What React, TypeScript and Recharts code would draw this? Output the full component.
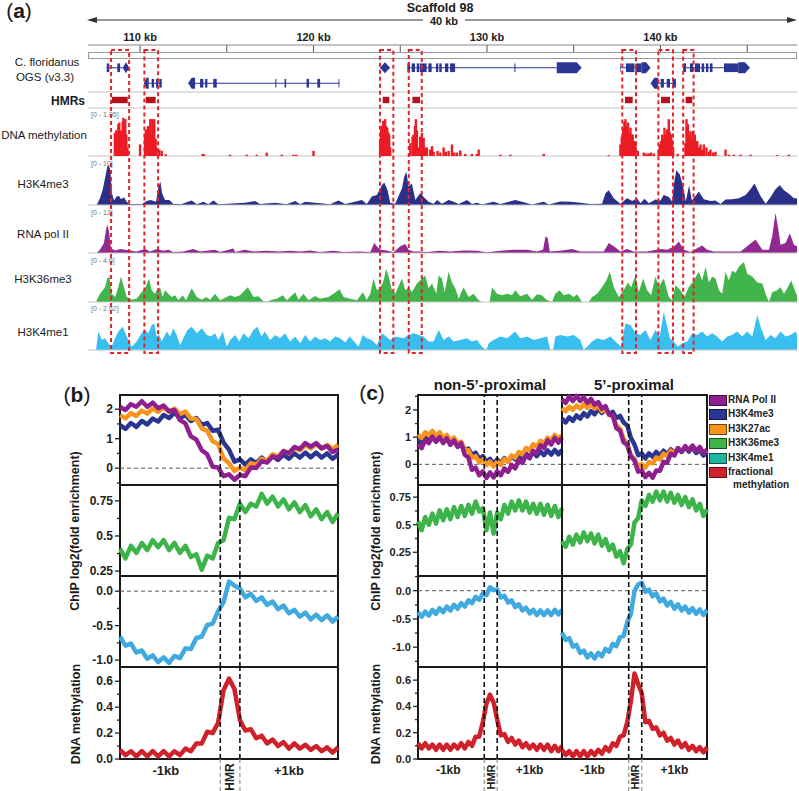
import React from 'react';
import {
  AreaChart,
  Area,
  ScatterChart,
  Scatter,
  LineChart,
  Line,
  XAxis,
  YAxis,
  ReferenceLine,
  ReferenceArea
} from 'recharts';

const FONT = '"Liberation Sans", Arial, Helvetica, sans-serif';
const NO_MARGIN = { top: 0, right: 0, bottom: 0, left: 0 };

// ---------------- panel (a) data: genome browser, Scaffold 98 (kb) ----------------
const KB_MIN = 107.0;
const KB_MAX = 147.87;
const rulerKb = [110, 115, 120, 125, 130, 135, 140, 145];
const rulerLabels = [110, 120, 130, 140];

// gene models: row, intron span, exons, terminal exon with direction
const genes = [
  { row: 1, start: 108.08, end: 109.0, exons: [[108.08, 108.23], [108.69, 108.85]], head: [109.0, 109.38], dir: 'none' },
  { row: 2, start: 110.23, end: 111.25, exons: [[110.67, 110.81], [110.92, 111.05], [111.11, 111.25]], head: [110.23, 110.5], dir: 'left' },
  { row: 2, start: 112.78, end: 121.49, exons: [[113.46, 113.65], [113.75, 113.88], [114.22, 114.42], [117.8, 117.86], [118.33, 118.42], [119.6, 119.74], [120.22, 120.38], [121.44, 121.49]], head: [112.78, 113.17], dir: 'left' },
  { row: 1, start: 123.83, end: 124.41, exons: [], head: [123.83, 124.41], dir: 'none' },
  { row: 1, start: 125.41, end: 134.02, exons: [[125.41, 125.56], [125.66, 125.85], [125.95, 126.1], [126.14, 126.52], [126.62, 126.81], [127.06, 127.19], [127.25, 127.39], [127.58, 127.77], [127.87, 128.16], [131.58, 131.64]], head: [134.02, 135.46], dir: 'right' },
  { row: 1, start: 137.67, end: 138.9, exons: [[137.67, 137.7], [138.01, 138.5], [138.56, 138.9]], head: [138.9, 139.43], dir: 'right' },
  { row: 2, start: 139.87, end: 140.89, exons: [[140.01, 140.2], [140.36, 140.55], [140.7, 140.89]], head: [139.43, 139.87], dir: 'left' },
  { row: 1, start: 141.31, end: 143.66, exons: [[141.31, 141.47], [141.7, 141.89], [141.99, 142.28], [142.37, 142.52], [142.62, 142.76], [142.85, 143.0], [143.66, 144.48]], head: [144.48, 145.16], dir: 'right' }
];

const hmrs = [[108.37, 109.29], [110.33, 110.9], [123.99, 124.37], [125.7, 126.14], [137.95, 138.4], [140.03, 140.55], [141.45, 141.83]];
const hmrBoxes = [[108.33, 109.37], [110.25, 111.04], [123.83, 124.6], [125.49, 126.24], [137.8, 138.59], [139.88, 140.72], [141.31, 141.91]];

const methPoints = [
  [108.55, 0.54], [108.63, 0.6], [108.69, 0.58], [108.75, 0.74], [108.8, 0.78], [108.88, 0.6], [108.94, 0.54], [109.0, 0.8], [109.04, 0.89], [109.09, 0.7], [109.15, 0.86], [109.21, 0.5], [109.27, 0.2],
  [110.0, 0.27], [110.29, 0.45], [110.34, 0.62], [110.4, 0.55], [110.46, 0.7], [110.53, 0.6], [110.59, 0.86], [110.65, 0.5], [110.71, 0.86], [110.77, 0.6], [110.82, 0.86], [110.9, 0.4], [110.96, 0.19], [111.11, 0.15], [111.25, 0.12], [111.48, 0.04],
  [113.61, 0.05], [113.69, 0.04], [115.19, 0.03], [116.15, 0.03], [116.73, 0.03], [117.3, 0.08], [118.17, 0.03], [118.84, 0.03], [119.0, 0.03], [120.0, 0.12],
  [123.84, 0.4], [123.9, 0.62], [123.96, 0.7], [124.02, 0.82], [124.08, 0.75], [124.13, 0.86], [124.19, 0.7], [124.25, 0.66], [124.31, 0.55], [124.36, 0.5], [124.42, 0.2],
  [125.58, 0.3], [125.71, 0.45], [125.77, 0.5], [125.85, 0.7], [125.9, 0.86], [125.96, 0.6], [126.06, 0.2], [126.15, 0.45], [126.25, 0.54], [126.35, 0.42], [126.44, 0.2], [126.54, 0.2], [126.73, 0.15], [126.83, 0.23], [126.92, 0.1], [127.15, 0.12], [127.31, 0.08], [127.5, 0.2], [127.63, 0.1], [127.79, 0.12], [127.98, 0.27], [128.12, 0.08], [128.27, 0.08], [128.46, 0.13], [128.75, 0.05], [129.13, 0.05], [129.42, 0.05], [129.52, 0.15], [130.77, 0.03], [131.35, 0.03], [133.27, 0.05],
  [137.02, 0.02], [137.69, 0.27], [137.77, 0.45], [137.85, 0.62], [137.92, 0.8], [137.98, 0.86], [138.06, 0.7], [138.12, 0.78], [138.19, 0.55], [138.27, 0.66], [138.35, 0.5], [138.4, 0.5], [138.48, 0.35], [138.56, 0.27], [138.69, 0.12],
  [139.04, 0.08], [139.19, 0.06], [139.33, 0.06], [139.46, 0.08], [139.62, 0.06],
  [139.9, 0.1], [139.96, 0.27], [140.04, 0.35], [140.1, 0.5], [140.17, 0.4], [140.23, 0.66], [140.31, 0.5], [140.38, 0.62], [140.48, 0.86], [140.54, 0.55], [140.62, 0.5], [140.67, 0.3], [140.73, 0.2], [141.0, 0.05],
  [141.44, 0.3], [141.5, 0.86], [141.58, 0.74], [141.65, 0.5], [141.73, 0.58], [141.81, 0.4], [141.87, 0.58], [141.92, 0.35], [141.98, 0.5], [142.06, 0.3], [142.12, 0.35], [142.21, 0.2], [142.31, 0.27], [142.4, 0.15], [142.5, 0.27], [142.65, 0.2], [142.79, 0.1], [142.88, 0.15], [143.04, 0.08], [143.17, 0.1],
  [143.75, 0.15], [143.94, 0.03], [144.23, 0.03], [144.62, 0.03], [145.19, 0.03], [146.73, 0.02], [147.4, 0.03]
];

const h3k4me3Points = [
  [107.5, 0], [107.69, 1.5], [107.84, 3.3], [108.0, 6.3], [108.11, 8.5], [108.19, 8.9], [108.29, 7.8], [108.38, 2.6], [108.5, 1.0], [108.65, 1.9], [108.79, 2.0], [108.9, 1.3], [109.07, 1.7], [109.23, 0.7], [109.42, 0.2],
  [110.09, 0.15], [110.38, 0.9], [110.61, 1.1], [110.92, 0.7], [111.07, 4.1], [111.17, 5.2], [111.27, 2.6], [111.44, 1.1], [111.69, 1.1], [111.92, 0.2], [112.4, 0.2], [112.98, 1.0], [113.27, 0.15], [113.65, 0.7], [113.94, 0.15], [114.23, 1.0], [114.52, 0.15],
  [116.05, 0.5], [116.63, 0.9], [116.92, 0.2], [117.79, 0.5], [118.46, 0.15], [118.94, 0.9], [119.23, 0.15], [119.52, 0.7], [120.09, 0.5], [120.96, 0.15], [121.44, 1.0], [121.83, 0.2], [122.79, 1.1], [123.07, 0.2],
  [123.36, 1.9], [123.65, 2.2], [123.94, 4.4], [124.08, 5.0], [124.27, 3.3], [124.42, 0.5], [124.71, 0.3], [125.1, 3.7], [125.23, 6.3], [125.35, 7.4], [125.48, 4.1], [125.67, 4.8], [125.87, 1.1], [126.15, 2.6], [126.35, 1.8], [126.63, 0.7], [126.92, 0.3],
  [127.12, 1.1], [127.4, 0.3], [127.79, 1.1], [128.08, 0.7], [128.37, 0.2], [128.85, 1.1], [129.13, 0.2], [129.42, 0.5], [129.71, 0.1], [130.38, 0.7], [130.77, 0.2], [131.63, 1.1], [132.12, 0.6], [132.6, 0.1], [133.27, 0.7], [133.56, 0.1], [134.23, 0.8], [134.81, 0.7], [135.38, 0.5], [135.96, 0.2],
  [136.63, 0.3], [136.83, 2.6], [137.02, 3.3], [137.31, 1.5], [137.69, 0.3], [138.08, 1.5], [138.37, 0.9], [138.65, 1.5], [138.85, 0.4], [139.08, 1.4], [139.33, 0.4], [139.71, 1.2], [140.0, 1.0], [140.19, 2.2], [140.48, 1.8], [140.67, 0.8],
  [140.81, 5.5], [140.92, 7.8], [141.12, 6.7], [141.31, 4.0], [141.46, 0.8], [141.65, 4.4], [141.81, 1.0], [142.02, 2.0], [142.21, 3.0], [142.5, 1.3], [142.88, 0.9], [143.17, 1.0], [143.46, 0.2], [143.75, 1.2], [144.13, 1.3], [144.52, 1.5],
  [144.9, 2.2], [145.19, 3.5], [145.42, 4.8], [145.77, 2.0], [146.06, 0.3], [146.35, 1.8], [146.63, 3.5], [146.88, 4.4], [147.12, 3.3], [147.4, 2.5], [147.69, 1.5], [147.88, 1.5]
];

const polIIPoints = [
  [107.5, 0], [107.69, 0.9], [107.92, 2.7], [108.04, 6.2], [108.11, 7.6], [108.21, 5.8], [108.32, 1.3], [108.56, 0.7], [108.85, 1.1], [109.13, 0.9], [109.42, 0.7], [109.8, 0.4], [110.29, 1.1], [110.58, 0.4], [110.96, 1.1], [111.34, 0.6], [111.63, 0.9], [111.92, 0.3],
  [112.5, 0.4], [113.07, 1.1], [113.46, 0.4], [114.32, 0.9], [114.61, 0.3], [115.38, 1.2], [115.48, 0.3], [116.05, 0.9], [116.54, 0.4], [117.3, 0.6], [118.07, 0.4], [118.65, 0.6], [119.23, 0.4], [119.8, 0.7], [120.38, 0.3], [121.15, 0.6], [121.73, 0.3], [122.69, 0.4], [123.27, 0.3],
  [123.5, 2.7], [123.65, 1.8], [123.85, 0.9], [124.23, 0.7], [124.61, 0.2], [125.0, 1.8], [125.29, 2.4], [125.48, 0.9], [125.77, 0.4], [126.15, 0.4], [126.54, 0.3], [127.31, 0.6], [127.88, 0.4], [128.65, 0.7], [129.42, 0.6], [130.0, 0.2], [130.77, 0.6], [131.54, 0.9], [132.31, 0.9], [132.88, 0.4],
  [133.23, 0.9], [133.37, 4.4], [133.5, 4.0], [133.62, 0.4], [134.23, 0.6], [134.9, 1.1], [135.38, 0.4], [136.15, 0.4], [136.73, 0.4], [137.02, 2.7], [137.31, 1.8], [137.69, 0.4], [138.08, 1.1], [138.46, 0.4], [139.23, 0.4], [140.0, 1.1], [140.38, 0.9], [140.81, 1.8], [141.06, 3.1], [141.35, 0.9], [141.73, 0.3],
  [142.4, 2.0], [142.69, 0.9], [143.08, 0.4], [143.85, 0.4], [144.62, 0.4], [145.1, 2.2], [145.48, 3.6], [145.87, 0.9], [146.25, 0.9], [146.44, 4.4], [146.63, 10.7], [146.77, 7.1], [146.92, 2.2], [147.21, 2.7], [147.46, 5.3], [147.69, 2.2], [147.88, 1.8]
];

const h3k36me3Points = [
  [107.5, 0.17], [107.69, 0.85], [107.98, 1.5], [108.11, 2.4], [108.23, 2.6], [108.36, 0.85], [108.56, 0.51], [108.75, 1.5], [108.9, 2.6], [109.07, 1.5], [109.23, 0.51], [109.52, 0.24], [109.8, 0.34], [110.09, 1.0], [110.29, 1.4], [110.52, 2.4], [110.67, 1.2], [110.86, 0.85],
  [111.0, 1.3], [111.15, 1.5], [111.3, 0.51], [111.44, 1.2], [111.63, 0.85], [111.82, 0.51], [112.02, 0.68], [112.21, 0.17], [112.46, 0.68], [112.65, 0.17], [112.98, 1.4], [113.27, 0.51], [113.56, 0.24], [113.81, 0.51], [114.04, 0.24], [114.32, 0.85], [114.61, 0.17],
  [115.0, 0.51], [115.19, 0.68], [115.48, 0.51], [115.77, 0.68], [116.21, 1.5], [116.54, 0.51], [116.82, 0.58], [117.11, 0.07], [117.3, 0], [117.59, 0.24], [117.88, 0.34], [118.23, 0.68], [118.46, 0.17], [118.94, 1.0], [119.13, 0.24], [119.42, 0.85], [119.71, 0.17],
  [120.09, 0.61], [120.38, 0.34], [120.86, 0.51], [121.15, 0.85], [121.5, 1.3], [121.73, 0.51], [122.11, 0.34], [122.5, 0.17], [122.85, 1.0], [123.07, 0.24], [123.27, 0.85], [123.46, 2.4], [123.65, 1.2], [123.85, 1.4], [124.04, 2.2], [124.19, 3.4], [124.33, 2.6], [124.52, 1.2], [124.71, 0.85],
  [125.1, 2.4], [125.29, 1.2], [125.48, 1.5], [125.67, 1.0], [125.96, 1.9], [126.25, 2.4], [126.44, 2.7], [126.63, 1.4], [126.83, 1.9], [127.08, 0.85], [127.21, 2.7], [127.4, 2.4], [127.56, 1.0], [127.79, 3.1], [127.98, 2.0], [128.17, 1.4], [128.37, 0.34], [128.65, 1.5], [128.94, 0.51],
  [129.23, 0.85], [129.52, 0.17], [129.71, 0], [130.15, 0], [130.29, 1.5], [130.58, 0.85], [130.87, 0.68], [131.15, 0.85], [131.44, 0.68], [131.63, 1.2], [131.92, 0.58], [132.31, 0.85], [132.6, 0.24], [132.88, 0.78], [133.17, 0.68], [133.42, 0.24], [133.75, 0],
  [133.94, 0.85], [134.19, 1.2], [134.42, 0.68], [134.71, 0.85], [135.0, 0.51], [135.19, 0.78], [135.48, 0], [135.87, 0], [136.06, 0.51], [136.35, 0.85], [136.63, 1.5], [136.88, 2.2], [137.08, 3.1], [137.31, 1.5], [137.6, 0.51], [137.88, 1.2], [138.12, 2.0], [138.31, 1.5],
  [138.56, 2.7], [138.75, 1.0], [139.0, 2.4], [139.23, 1.2], [139.46, 0.68], [139.71, 2.6], [139.9, 1.5], [140.19, 2.4], [140.48, 0.51], [140.67, 0.17], [140.87, 1.7], [141.15, 1.2], [141.38, 0.51], [141.63, 1.5], [141.92, 2.2], [142.21, 3.1], [142.4, 2.2], [142.6, 3.6],
  [142.79, 2.0], [142.98, 2.6], [143.17, 2.4], [143.37, 1.2], [143.56, 0.85], [143.75, 3.1], [143.94, 2.2], [144.13, 3.2], [144.33, 3.0], [144.52, 3.6], [144.81, 4.1], [145.0, 2.9], [145.29, 2.6], [145.58, 2.0], [145.87, 1.9], [146.06, 0.85], [146.25, 0],
  [146.44, 1.0], [146.73, 1.2], [146.92, 1.5], [147.12, 0.85], [147.31, 1.4], [147.54, 2.2], [147.79, 1.0], [147.92, 0.51]
];

const h3k4me1Points = [
  [107.46, 0], [107.6, 1.07], [107.79, 0.58], [107.98, 0.68], [108.17, 0.39], [108.36, 0.19], [108.56, 0.68], [108.75, 1.07], [109.0, 1.36], [109.23, 0.78], [109.52, 0.19], [109.8, 0.49], [110.09, 0.97], [110.29, 1.17], [110.48, 0.97], [110.67, 1.46], [110.81, 1.55], [110.96, 0.78],
  [111.11, 0.87], [111.25, 0.49], [111.54, 1.07], [111.73, 0.78], [111.92, 1.26], [112.11, 0.87], [112.31, 0.29], [112.54, 0.78], [112.73, 1.17], [112.98, 1.36], [113.27, 0.97], [113.56, 1.26], [113.85, 0.87], [114.08, 0.78], [114.32, 0.97], [114.52, 0.58], [114.77, 1.07],
  [115.0, 0.19], [115.19, 0.58], [115.48, 0.87], [115.73, 0.49], [115.96, 0.97], [116.25, 0.68], [116.54, 1.17], [116.77, 1.36], [117.0, 0.78], [117.19, 1.07], [117.5, 0.58], [117.79, 0.87], [118.07, 0.68], [118.36, 0.97], [118.65, 0.49], [118.94, 0.78], [119.23, 0.39],
  [119.52, 0.87], [119.8, 0.49], [120.09, 0.78], [120.38, 0.58], [120.67, 0.68], [120.96, 0.49], [121.25, 0.78], [121.54, 0.68], [121.83, 0.43], [122.08, 0.78], [122.34, 0.49], [122.59, 0.19], [122.84, 0.87], [123.07, 0.68], [123.36, 0.58], [123.65, 0.29], [123.94, 0.97],
  [124.19, 0.78], [124.42, 0.58], [124.71, 0.78], [125.19, 0.68], [125.48, 0.87], [125.77, 0.97], [126.06, 0.87], [126.35, 0.78], [126.63, 0.49], [126.92, 0.49], [127.21, 1.17], [127.5, 0.58], [127.79, 0.78], [128.08, 0.49], [128.46, 0.58], [128.85, 0.68], [129.13, 0.49],
  [129.42, 0.58], [129.71, 0.19], [129.96, 0], [130.1, 0.39], [130.38, 0.58], [130.77, 0.78], [131.15, 0.68], [131.63, 1.07], [131.92, 0.68], [132.31, 0.78], [132.69, 0.58], [133.08, 0.68], [133.46, 0.78], [133.65, 0], [133.81, 0], [133.94, 0.78], [134.23, 0.87],
  [134.62, 0.78], [135.0, 0.87], [135.38, 0.58], [135.58, 0], [135.77, 0.19], [136.06, 0.49], [136.35, 0.68], [136.73, 0.58], [137.12, 0.78], [137.4, 0.49], [137.73, 0.19], [137.98, 1.55], [138.27, 1.46], [138.56, 0.97], [138.85, 0.87], [139.13, 1.17], [139.42, 0.58],
  [139.71, 1.17], [139.96, 0.78], [140.19, 2.23], [140.35, 1.55], [140.54, 0.68], [140.77, 0.49], [141.0, 0.19], [141.25, 0.39], [141.54, 0.49], [141.83, 0.97], [142.12, 0.87], [142.4, 1.07], [142.69, 0.78], [142.98, 0.97], [143.27, 0.78], [143.56, 0.49], [143.85, 0.78],
  [144.13, 0.87], [144.42, 1.07], [144.71, 0.78], [145.0, 1.07], [145.29, 0.78], [145.58, 2.04], [145.77, 1.36], [146.06, 0.58], [146.35, 0.87], [146.63, 0.68], [146.92, 1.07], [147.21, 0.78], [147.5, 0.87], [147.79, 1.07], [147.92, 0.78]
];

// ---------------- panels (b) and (c): profiles around HMRs ----------------
// x runs 0..100 across the window, HMR between 46 and 55
const profileX = [0, 2.5, 5, 7.5, 10, 12.5, 15, 17.5, 20, 22.5, 25, 27.5, 30, 32.5, 35, 37.5, 40, 42.5, 45, 47.5, 50, 52.5, 55, 57.5, 60, 62.5, 65, 67.5, 70, 72.5, 75, 77.5, 80, 82.5, 85, 87.5, 90, 92.5, 95, 97.5, 100];
const hmrEdges = [46, 55];
const xLabelTicks = [21, 50.5, 77.5];

// (b) all HMRs
const polB = [2.07, 1.97, 2.17, 2.08, 2.27, 2.08, 2.22, 2.03, 2.12, 1.93, 1.97, 1.63, 1.52, 1.08, 0.97, 0.61, 0.47, 0.05, 0.02, -0.27, -0.21, -0.39, -0.23, -0.27, 0.02, 0.01, 0.24, 0.19, 0.4, 0.35, 0.57, 0.51, 0.72, 0.65, 0.85, 0.73, 0.85, 0.67, 0.75, 0.55, 0.63];
const k4me3B = [1.46, 1.33, 1.53, 1.4, 1.6, 1.48, 1.68, 1.58, 1.8, 1.7, 1.88, 1.7, 1.8, 1.6, 1.7, 1.47, 1.53, 1.27, 1.3, 0.87, 0.63, 0.22, 0.3, 0.12, 0.3, 0.17, 0.36, 0.22, 0.41, 0.28, 0.46, 0.32, 0.5, 0.36, 0.53, 0.37, 0.53, 0.36, 0.5, 0.32, 0.46];
const k27acB = [1.79, 1.69, 1.87, 1.77, 1.95, 1.85, 2.02, 1.91, 2.07, 1.91, 2.02, 1.83, 1.92, 1.68, 1.67, 1.35, 1.27, 0.91, 0.82, 0.33, 0.17, -0.09, 0.02, -0.07, 0.17, 0.11, 0.32, 0.25, 0.47, 0.39, 0.59, 0.5, 0.69, 0.6, 0.79, 0.67, 0.82, 0.67, 0.79, 0.65, 0.79];
const k36B = [0.41, 0.34, 0.43, 0.38, 0.45, 0.4, 0.47, 0.42, 0.47, 0.4, 0.45, 0.38, 0.43, 0.35, 0.37, 0.26, 0.36, 0.34, 0.45, 0.47, 0.63, 0.62, 0.73, 0.67, 0.73, 0.71, 0.8, 0.73, 0.78, 0.71, 0.76, 0.69, 0.74, 0.67, 0.72, 0.64, 0.69, 0.62, 0.67, 0.6, 0.66];
const k4me1B = [-0.66, -0.79, -0.76, -0.89, -0.86, -0.98, -0.93, -1.03, -0.96, -1.04, -0.94, -0.97, -0.83, -0.84, -0.68, -0.66, -0.49, -0.47, -0.29, -0.16, 0.14, 0.08, 0.04, -0.09, -0.04, -0.14, -0.09, -0.2, -0.15, -0.26, -0.21, -0.32, -0.27, -0.37, -0.31, -0.41, -0.34, -0.42, -0.35, -0.44, -0.37];
const methB = [0.07, 0.03, 0.06, 0.02, 0.06, 0.02, 0.06, 0.02, 0.06, 0.02, 0.06, 0.03, 0.08, 0.06, 0.12, 0.12, 0.21, 0.2, 0.28, 0.53, 0.62, 0.54, 0.3, 0.22, 0.23, 0.16, 0.18, 0.12, 0.15, 0.1, 0.13, 0.08, 0.12, 0.08, 0.11, 0.07, 0.1, 0.06, 0.09, 0.05, 0.09];

// (c) non-5'-proximal
const polN = [0.75, 0.6, 0.9, 0.78, 1.02, 0.83, 1.0, 0.78, 0.95, 0.72, 0.88, 0.64, 0.78, 0.35, 0.25, -0.2, -0.12, -0.4, -0.26, -0.5, -0.3, -0.48, -0.25, -0.4, -0.15, -0.28, -0.02, -0.15, 0.15, 0.05, 0.33, 0.22, 0.5, 0.4, 0.7, 0.6, 0.88, 0.73, 0.97, 0.8, 0.98];
const k4me3N = [0.93, 0.82, 1.03, 0.92, 1.1, 0.92, 1.05, 0.85, 0.98, 0.78, 0.9, 0.7, 0.78, 0.52, 0.58, 0.34, 0.43, 0.2, 0.3, 0.08, 0.2, 0.02, 0.18, 0.04, 0.23, 0.1, 0.3, 0.18, 0.36, 0.22, 0.4, 0.26, 0.44, 0.3, 0.48, 0.34, 0.51, 0.36, 0.53, 0.37, 0.53];
const k27acN = [1.08, 0.97, 1.18, 1.07, 1.23, 1.04, 1.18, 0.97, 1.08, 0.87, 0.98, 0.77, 0.83, 0.52, 0.53, 0.24, 0.3, 0.07, 0.18, -0.03, 0.1, -0.08, 0.1, -0.02, 0.2, 0.1, 0.33, 0.24, 0.46, 0.37, 0.6, 0.52, 0.74, 0.64, 0.86, 0.77, 0.98, 0.87, 1.08, 0.94, 1.08];
const k36N = [0.53, 0.45, 0.57, 0.5, 0.6, 0.51, 0.63, 0.54, 0.64, 0.55, 0.66, 0.57, 0.67, 0.58, 0.68, 0.6, 0.71, 0.62, 0.65, 0.45, 0.61, 0.42, 0.61, 0.55, 0.68, 0.6, 0.71, 0.63, 0.72, 0.63, 0.71, 0.61, 0.69, 0.6, 0.69, 0.59, 0.68, 0.58, 0.67, 0.57, 0.65];
const k4me1N = [-0.38, -0.46, -0.37, -0.44, -0.34, -0.41, -0.31, -0.38, -0.28, -0.35, -0.25, -0.32, -0.22, -0.28, -0.17, -0.22, -0.11, -0.16, -0.05, -0.08, 0.06, 0.01, 0.02, -0.12, -0.09, -0.21, -0.17, -0.29, -0.24, -0.35, -0.3, -0.4, -0.34, -0.43, -0.35, -0.43, -0.35, -0.43, -0.34, -0.42, -0.34];
const methN = [0.12, 0.08, 0.12, 0.08, 0.11, 0.07, 0.11, 0.07, 0.11, 0.07, 0.11, 0.08, 0.12, 0.08, 0.13, 0.1, 0.17, 0.17, 0.28, 0.42, 0.49, 0.43, 0.3, 0.18, 0.19, 0.13, 0.16, 0.11, 0.14, 0.09, 0.12, 0.08, 0.11, 0.07, 0.11, 0.07, 0.11, 0.06, 0.1, 0.06, 0.1];

// (c) 5'-proximal
const polP = [2.39, 2.26, 2.49, 2.33, 2.52, 2.33, 2.47, 2.26, 2.41, 2.19, 2.29, 2.05, 2.14, 1.83, 1.79, 1.33, 1.24, 0.81, 0.71, 0.29, 0.14, -0.27, -0.23, -0.47, -0.31, -0.49, -0.23, -0.24, 0.09, 0.06, 0.39, 0.33, 0.59, 0.46, 0.67, 0.51, 0.69, 0.49, 0.64, 0.41, 0.54];
const k4me3P = [1.68, 1.54, 1.73, 1.6, 1.8, 1.68, 1.88, 1.76, 1.96, 1.84, 2.03, 1.89, 2.04, 1.84, 1.93, 1.7, 1.78, 1.54, 1.43, 0.97, 0.73, 0.34, 0.4, 0.22, 0.4, 0.27, 0.46, 0.32, 0.5, 0.37, 0.55, 0.42, 0.6, 0.46, 0.63, 0.47, 0.62, 0.42, 0.53, 0.32, 0.46];
const k27acP = [2.07, 1.95, 2.12, 2.01, 2.17, 2.05, 2.21, 2.08, 2.22, 2.05, 2.15, 1.95, 2.03, 1.81, 1.79, 1.43, 1.32, 0.93, 0.77, 0.33, 0.19, -0.09, 0.01, -0.12, 0.09, 0.03, 0.25, 0.18, 0.39, 0.31, 0.5, 0.41, 0.59, 0.49, 0.65, 0.53, 0.67, 0.51, 0.62, 0.43, 0.53];
const k36P = [0.35, 0.3, 0.39, 0.32, 0.41, 0.34, 0.43, 0.35, 0.42, 0.33, 0.41, 0.31, 0.37, 0.27, 0.32, 0.21, 0.26, 0.15, 0.28, 0.32, 0.52, 0.56, 0.72, 0.67, 0.77, 0.71, 0.8, 0.72, 0.8, 0.71, 0.79, 0.7, 0.77, 0.68, 0.75, 0.66, 0.73, 0.63, 0.69, 0.58, 0.64];
const k4me1P = [-0.74, -0.87, -0.84, -0.99, -0.96, -1.1, -1.06, -1.18, -1.11, -1.2, -1.1, -1.16, -1.03, -1.08, -0.94, -0.98, -0.82, -0.8, -0.56, -0.4, -0.01, 0.11, 0.14, -0.02, 0.02, -0.1, -0.05, -0.19, -0.14, -0.26, -0.2, -0.32, -0.24, -0.35, -0.28, -0.39, -0.31, -0.41, -0.33, -0.43, -0.34];
const methP = [0.07, 0.03, 0.06, 0.02, 0.06, 0.02, 0.06, 0.02, 0.06, 0.03, 0.07, 0.04, 0.09, 0.06, 0.12, 0.1, 0.17, 0.18, 0.28, 0.44, 0.65, 0.57, 0.5, 0.28, 0.29, 0.23, 0.24, 0.18, 0.2, 0.14, 0.16, 0.11, 0.14, 0.09, 0.12, 0.07, 0.1, 0.06, 0.09, 0.05, 0.09];

const legendItems = [
  { name: 'RNA Pol II', color: '#8e1f8e' },
  { name: 'H3K4me3', color: '#2b3592' },
  { name: 'H3K27ac', color: '#f7941d' },
  { name: 'H3K36me3', color: '#3cb44a' },
  { name: 'H3K4me1', color: '#1fb5a0' },
  { name: 'fractional', color: '#d3202a' }
];

// colours
const POL = '#8e1f8e';
const K4ME3 = '#2b3592';
const K27AC = '#f7941d';
const K36 = '#3cb44a';
const K4ME1 = '#3fa9e0';
const METH = '#d0202a';
const GENE = '#2b3592';
const METH_BAR = '#ec1c24';

const TRACK_LEFT = 88;
const TRACK_W = 709;
const METH_H = 45;

const Txt = ({ x, y, size = 12, bold = false, color = '#1a1a1a', rotate = false, children }: any) => (
  <div
    style={{
      position: 'absolute',
      left: x,
      top: y,
      transform: `translate(-50%, -50%)${rotate ? ' rotate(-90deg)' : ''}`,
      fontSize: size,
      fontWeight: bold ? 700 : 400,
      color,
      whiteSpace: 'nowrap',
      lineHeight: 1
    }}
  >
    {children}
  </div>
);

const LeftTxt = ({ x, y, size = 7, color = '#777', bold = false, children }: any) => (
  <div style={{ position: 'absolute', left: x, top: y, transform: 'translateY(-50%)', fontSize: size, color, fontWeight: bold ? 700 : 400, whiteSpace: 'nowrap', lineHeight: 1 }}>
    {children}
  </div>
);

const kbAxis = <XAxis dataKey="kb" type="number" domain={[KB_MIN, KB_MAX]} hide allowDataOverflow />;
// invisible series so reference marks get the scales
const anchorLine = <Line dataKey="y" stroke="none" dot={false} isAnimationActive={false} legendType="none" />;

const Track = ({ top, height, max, points, color }: any) => {
  const data = points.map(([kb, v]: number[]) => ({ kb, v }));
  return (
    <div style={{ position: 'absolute', left: TRACK_LEFT, top }}>
      <AreaChart width={TRACK_W} height={height} data={data} margin={NO_MARGIN}>
        {kbAxis}
        <YAxis type="number" domain={[0, max]} hide allowDataOverflow />
        <ReferenceLine y={0} stroke="#c4c4c4" />
        <Area type="linear" dataKey="v" stroke="none" fill={color} fillOpacity={1} isAnimationActive={false} />
      </AreaChart>
    </div>
  );
};

// methylation bar: from the point down to the track baseline
const methBar = (p: any) => <rect x={p.cx - 1.2} y={p.cy} width={2.4} height={Math.max(0.5, METH_H - p.cy)} fill={METH_BAR} />;

const headShape = (dir: string) => (p: any) => {
  const { x, y, width: w, height: h } = p;
  const t = Math.min(5, w / 2);
  let pts;
  if (dir === 'right') pts = `${x},${y} ${x + w - t},${y} ${x + w},${y + h / 2} ${x + w - t},${y + h} ${x},${y + h}`;
  else if (dir === 'left') pts = `${x + t},${y} ${x + w},${y} ${x + w},${y + h} ${x + t},${y + h} ${x},${y + h / 2}`;
  else pts = `${x + t},${y} ${x + w - t},${y} ${x + w},${y + h / 2} ${x + w - t},${y + h} ${x + t},${y + h} ${x},${y + h / 2}`;
  return <polygon points={pts} fill={GENE} />;
};

const rulerTick = (p: any) => (
  <text x={p.x} y={p.y - 8} textAnchor="middle" dominantBaseline="central" fontSize={11} fontWeight="bold" fill="#222" fontFamily={FONT}>
    {p.payload.value} kb
  </text>
);

const yTick = (majors: number[], fmt: (v: number) => string, fs: number) => (p: any) => {
  const v = p.payload.value;
  const major = majors.some((m) => Math.abs(m - v) < 1e-6);
  return (
    <g>
      <line x1={p.x - (major ? 5 : 3)} x2={p.x} y1={p.y} y2={p.y} stroke="#222" strokeWidth={1.3} />
      {major && (
        <text x={p.x - 7} y={p.y} textAnchor="end" dominantBaseline="central" fontSize={fs} fontWeight="bold" fill="#222" fontFamily={FONT}>
          {fmt(v)}
        </text>
      )}
    </g>
  );
};

const xTick = (fs: number) => (p: any) => {
  const v = p.payload.value;
  if (v === 50.5) {
    return (
      <text transform={`translate(${p.x},${p.y + 18}) rotate(-90)`} textAnchor="middle" dominantBaseline="central" fontSize={fs - 1} fontWeight="bold" fill="#222" fontFamily={FONT}>
        HMR
      </text>
    );
  }
  return (
    <text x={p.x} y={p.y + 11} textAnchor="middle" dominantBaseline="central" fontSize={fs} fontWeight="bold" fill="#222" fontFamily={FONT}>
      {v < 50 ? '-1kb' : '+1kb'}
    </text>
  );
};

const ProfilePanel = ({ left, top, plotW, plotH, axisW, domain, ticks, majors, fmt, series, zero, bottom, fs }: any) => {
  const data = profileX.map((x, i) => {
    const r: any = { x };
    series.forEach((s: any, j: number) => {
      r['s' + j] = s.values[i];
    });
    return r;
  });
  const xH = bottom ? 32 : 0;
  const ext = bottom ? ((domain[1] - domain[0]) * 32) / plotH : 0;
  return (
    <div style={{ position: 'absolute', left: left - axisW, top }}>
      <LineChart width={plotW + axisW} height={plotH + xH} data={data} margin={NO_MARGIN}>
        <XAxis
          dataKey="x"
          type="number"
          domain={[0, 100]}
          hide={!bottom}
          height={xH}
          ticks={xLabelTicks}
          interval={0}
          tickLine={false}
          axisLine={false}
          tickSize={0}
          tickMargin={0}
          tick={xTick(fs + 1)}
        />
        <YAxis
          type="number"
          domain={domain}
          hide={axisW === 0}
          width={axisW}
          ticks={ticks}
          interval={0}
          tickLine={false}
          axisLine={false}
          tickSize={0}
          tickMargin={0}
          tick={yTick(majors, fmt, fs)}
        />
        {zero && <ReferenceLine y={0} stroke="#555" strokeDasharray="4 3" />}
        {series.map((s: any, j: number) => (
          <Line key={j} type="linear" dataKey={'s' + j} stroke={s.color} strokeWidth={4.5} strokeLinejoin="round" dot={false} isAnimationActive={false} />
        ))}
        {hmrEdges.map((e) => (
          <ReferenceLine key={'e' + e} x={e} stroke="#111" strokeDasharray="5 3" strokeWidth={1.6} />
        ))}
        {bottom &&
          hmrEdges.map((e) => (
            <ReferenceLine
              key={'g' + e}
              segment={[{ x: e, y: domain[0] }, { x: e, y: domain[0] - ext }]}
              ifOverflow="visible"
              stroke="#999"
              strokeDasharray="4 3"
              strokeWidth={1.3}
            />
          ))}
        <ReferenceArea x1={0} x2={100} y1={domain[0]} y2={domain[1]} fill="none" fillOpacity={0} stroke="#1a1a1a" strokeWidth={2} />
      </LineChart>
    </div>
  );
};

const fmtInt = (v: number) => String(v);
const fmt1 = (v: number) => v.toFixed(1);

const rowTops = [395, 485, 576, 667];
const rowHeights = [90, 91, 91, 92];

const bPanels = [
  { domain: [-0.57, 2.48], ticks: [-0.5, 0, 0.5, 1, 1.5, 2], majors: [0, 1, 2], fmt: fmtInt, zero: true },
  { domain: [0.215, 0.863], ticks: [0.25, 0.375, 0.5, 0.625, 0.75], majors: [0.25, 0.5, 0.75], fmt: fmtInt, zero: false },
  { domain: [-1.1, 0.22], ticks: [-1, -0.75, -0.5, -0.25, 0], majors: [-1, -0.5, 0], fmt: fmt1, zero: true },
  { domain: [0, 0.71], ticks: [0, 0.1, 0.2, 0.3, 0.4, 0.5, 0.6], majors: [0, 0.2, 0.4, 0.6], fmt: fmt1, zero: false }
];
const cPanels = [
  { domain: [-0.76, 2.55], ticks: [-0.5, 0, 0.5, 1, 1.5, 2, 2.5], majors: [0, 1, 2], fmt: fmtInt, zero: true },
  { domain: [0.035, 0.86], ticks: [0.125, 0.25, 0.375, 0.5, 0.625, 0.75], majors: [0.25, 0.5, 0.75], fmt: fmtInt, zero: false },
  { domain: [-1.35, 0.26], ticks: [-1.25, -1, -0.75, -0.5, -0.25, 0, 0.25], majors: [-1, -0.5, 0], fmt: fmt1, zero: true },
  { domain: [0, 0.7], ticks: [0, 0.1, 0.2, 0.3, 0.4, 0.5, 0.6], majors: [0, 0.2, 0.4, 0.6], fmt: fmt1, zero: false }
];

const bSeries = [
  [{ values: k4me3B, color: K4ME3 }, { values: k27acB, color: K27AC }, { values: polB, color: POL }],
  [{ values: k36B, color: K36 }],
  [{ values: k4me1B, color: K4ME1 }],
  [{ values: methB, color: METH }]
];
const nSeries = [
  [{ values: k4me3N, color: K4ME3 }, { values: k27acN, color: K27AC }, { values: polN, color: POL }],
  [{ values: k36N, color: K36 }],
  [{ values: k4me1N, color: K4ME1 }],
  [{ values: methN, color: METH }]
];
const pSeries = [
  [{ values: k4me3P, color: K4ME3 }, { values: k27acP, color: K27AC }, { values: polP, color: POL }],
  [{ values: k36P, color: K36 }],
  [{ values: k4me1P, color: K4ME1 }],
  [{ values: methP, color: METH }]
];

const PanelLetter = ({ x, y, letter }: any) => (
  <Txt x={x} y={y} size={21}>
    (<b>{letter}</b>)
  </Txt>
);

const App = () => {
  return (
    <div style={{ position: 'absolute', left: 0, top: 0, width: 799, height: 791, background: '#fff', fontFamily: FONT, overflow: 'hidden' }}>
      <style>{'.recharts-surface{overflow:visible}'}</style>
      {/* ---------- (a) ---------- */}
      <PanelLetter x={19} y={10} letter="a" />
      <Txt x={440} y={8} size={12.5} bold>Scaffold 98</Txt>
      <Txt x={444} y={21} size={11} bold>40 kb</Txt>
      <svg style={{ position: 'absolute', left: 0, top: 0 }} width={799} height={30}>
        <line x1={94} y1={20} x2={423} y2={20} stroke="#333" strokeWidth={1.2} />
        <line x1={465} y1={20} x2={790} y2={20} stroke="#333" strokeWidth={1.2} />
        <polygon points="87,20 97,17 97,23" fill="#333" />
        <polygon points="797,20 787,17 787,23" fill="#333" />
      </svg>

      {/* ruler */}
      <div style={{ position: 'absolute', left: TRACK_LEFT, top: 25 }}>
        <LineChart width={TRACK_W} height={27} data={rulerKb.map((kb) => ({ kb, y: 0.5 }))} margin={NO_MARGIN}>
          <XAxis
            dataKey="kb"
            type="number"
            domain={[KB_MIN, KB_MAX]}
            orientation="top"
            height={20}
            ticks={rulerLabels}
            interval={0}
            tickLine={false}
            tickSize={0}
            tickMargin={0}
            axisLine={{ stroke: '#888' }}
            tick={rulerTick}
            allowDataOverflow
          />
          <YAxis hide type="number" domain={[0, 1]} />
          {anchorLine}
          {rulerKb.map((kb) => (
            <ReferenceLine key={kb} x={kb} stroke="#555" />
          ))}
        </LineChart>
      </div>
      <div style={{ position: 'absolute', left: TRACK_LEFT, top: 52, width: TRACK_W - 2, height: 5, border: '1px solid #999' }} />

      {/* genes */}
      <div style={{ position: 'absolute', left: TRACK_LEFT, top: 60 }}>
        <LineChart width={TRACK_W} height={31} data={genes.map((g) => ({ kb: g.start, y: g.row }))} margin={NO_MARGIN}>
          {kbAxis}
          <YAxis type="number" domain={[0.5, 2.5]} reversed hide />
          {anchorLine}
          {genes.map((g, i) => (
            <ReferenceLine key={'l' + i} segment={[{ x: g.start, y: g.row }, { x: g.end, y: g.row }]} stroke={GENE} strokeWidth={1} />
          ))}
          {genes.map((g, i) =>
            g.exons.map(([s, e], j) => (
              <ReferenceArea key={'x' + i + '_' + j} x1={s} x2={e} y1={g.row - 0.28} y2={g.row + 0.28} fill={GENE} fillOpacity={1} stroke="none" />
            ))
          )}
          {genes.map((g, i) => (
            <ReferenceArea key={'h' + i} x1={g.head[0]} x2={g.head[1]} y1={g.row - 0.36} y2={g.row + 0.36} shape={headShape(g.dir)} />
          ))}
        </LineChart>
      </div>

      {/* HMRs */}
      <div style={{ position: 'absolute', left: TRACK_LEFT, top: 92 }}>
        <LineChart width={TRACK_W} height={16} data={hmrs.map(([s]) => ({ kb: s, y: 0.5 }))} margin={NO_MARGIN}>
          {kbAxis}
          <YAxis type="number" domain={[0, 1]} hide />
          {anchorLine}
          <ReferenceLine y={1} stroke="#c4c4c4" />
          <ReferenceLine y={0} stroke="#c4c4c4" />
          {hmrs.map(([s, e], i) => (
            <ReferenceArea key={i} x1={s} x2={e} y1={0.3} y2={0.7} fill="#b5121b" fillOpacity={1} stroke="none" />
          ))}
        </LineChart>
      </div>

      {/* DNA methylation */}
      <div style={{ position: 'absolute', left: TRACK_LEFT, top: 111 }}>
        <ScatterChart width={TRACK_W} height={METH_H} margin={NO_MARGIN}>
          <XAxis dataKey="kb" type="number" domain={[KB_MIN, KB_MAX]} hide allowDataOverflow />
          <YAxis dataKey="v" type="number" domain={[0, 1.05]} hide />
          <ReferenceLine y={0} stroke="#c4c4c4" />
          <Scatter data={methPoints.map(([kb, v]) => ({ kb, v }))} shape={methBar} isAnimationActive={false} />
        </ScatterChart>
      </div>

      <Track top={160} height={45} max={10} points={h3k4me3Points} color="#2a2f88" />
      <Track top={208} height={45} max={12} points={polIIPoints} color="#912a90" />
      <Track top={257} height={45} max={4.6} points={h3k36me3Points} color="#41b44b" />
      <Track top={305} height={45} max={2.62} points={h3k4me1Points} color="#38bff0" />

      <LeftTxt x={91} y={114}>[0 - 1.05]</LeftTxt>
      <LeftTxt x={91} y={163}>[0 - 10]</LeftTxt>
      <LeftTxt x={91} y={212}>[0 - 12]</LeftTxt>
      <LeftTxt x={91} y={260}>[0 - 4.6]</LeftTxt>
      <LeftTxt x={91} y={308}>[0 - 2.62]</LeftTxt>

      <Txt x={47} y={63} size={11.5}>C. floridanus</Txt>
      <Txt x={45} y={78} size={11.5}>OGS (v3.3)</Txt>
      <Txt x={68} y={101} size={12} bold>HMRs</Txt>
      <Txt x={44} y={136} size={11.5}>DNA methylation</Txt>
      <Txt x={43} y={185} size={11.5}>H3K4me3</Txt>
      <Txt x={43} y={235} size={11.5}>RNA pol II</Txt>
      <Txt x={43} y={280} size={11.5}>H3K36me3</Txt>
      <Txt x={43} y={333} size={11.5}>H3K4me1</Txt>

      {/* dashed HMR boxes over all tracks */}
      <div style={{ position: 'absolute', left: TRACK_LEFT, top: 50 }}>
        <LineChart width={TRACK_W} height={303} data={hmrBoxes.map(([s]) => ({ kb: s, y: 0.5 }))} margin={NO_MARGIN}>
          {kbAxis}
          <YAxis type="number" domain={[0, 1]} hide />
          {anchorLine}
          {hmrBoxes.map(([s, e], i) => (
            <ReferenceArea key={i} x1={s} x2={e} y1={0} y2={1} fill="none" fillOpacity={0} stroke="#e3232b" strokeWidth={2} strokeDasharray="4 3" />
          ))}
        </LineChart>
      </div>

      {/* ---------- (b) ---------- */}
      <PanelLetter x={77} y={394} letter="b" />
      {bPanels.map((p, i) => (
        <ProfilePanel
          key={'b' + i}
          left={120}
          top={rowTops[i]}
          plotW={218}
          plotH={rowHeights[i]}
          axisW={40}
          domain={p.domain}
          ticks={p.ticks}
          majors={p.majors}
          fmt={p.fmt}
          zero={p.zero}
          series={bSeries[i]}
          bottom={i === 3}
          fs={12}
        />
      ))}
      <Txt x={75} y={531} size={12.5} bold rotate>ChIP log2(fold enrichment)</Txt>
      <Txt x={76} y={714} size={12.5} bold rotate>DNA methylation</Txt>

      {/* ---------- (c) ---------- */}
      <PanelLetter x={372} y={392} letter="c" />
      <Txt x={490} y={384} size={15} bold>non-5’-proximal</Txt>
      <Txt x={634} y={384} size={15} bold>5’-proximal</Txt>
      {cPanels.map((p, i) => (
        <ProfilePanel
          key={'n' + i}
          left={418}
          top={rowTops[i]}
          plotW={144}
          plotH={rowHeights[i]}
          axisW={40}
          domain={p.domain}
          ticks={p.ticks}
          majors={p.majors}
          fmt={p.fmt}
          zero={p.zero}
          series={nSeries[i]}
          bottom={i === 3}
          fs={11}
        />
      ))}
      {cPanels.map((p, i) => (
        <ProfilePanel
          key={'p' + i}
          left={562}
          top={rowTops[i]}
          plotW={145}
          plotH={rowHeights[i]}
          axisW={0}
          domain={p.domain}
          ticks={p.ticks}
          majors={p.majors}
          fmt={p.fmt}
          zero={p.zero}
          series={pSeries[i]}
          bottom={i === 3}
          fs={11}
        />
      ))}
      <Txt x={376} y={531} size={12.5} bold rotate>ChIP log2(fold enrichment)</Txt>
      <Txt x={376} y={714} size={12.5} bold rotate>DNA methylation</Txt>

      {/* legend */}
      {legendItems.map((it, i) => (
        <div key={it.name}>
          <div
            style={{
              position: 'absolute',
              left: 709,
              top: 395 + i * 14.4,
              width: 16,
              height: 9,
              background: it.color,
              border: '1px solid rgba(0,0,0,0.55)'
            }}
          />
          <LeftTxt x={728} y={400 + i * 14.4} size={10} color="#222" bold>
            {it.name}
          </LeftTxt>
        </div>
      ))}
      <LeftTxt x={733} y={485} size={10} color="#222" bold>
        methylation
      </LeftTxt>
    </div>
  );
};

export default App;
